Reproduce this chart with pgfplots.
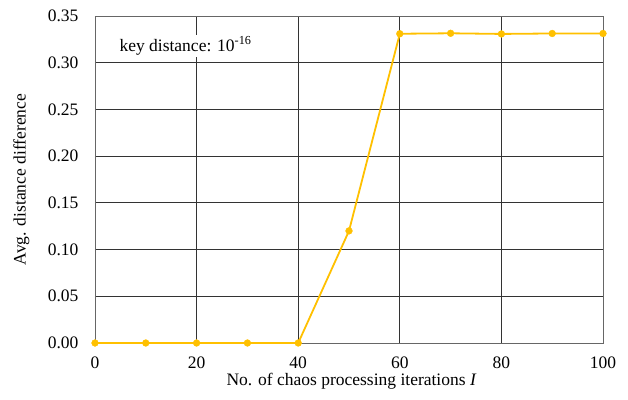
\documentclass[border=0pt]{standalone}
\usepackage{pgfplots}
\pgfplotsset{compat=1.18}
\usepackage{fontspec}
\setmainfont{Liberation Serif}
\definecolor{lineor}{HTML}{FFC000}
\begin{document}
\begin{tikzpicture}
\begin{axis}[
  scale only axis,
  width=508pt, height=327pt,
  xmin=0, xmax=100, ymin=0, ymax=0.35,
  xtick={0,20,40,60,80,100},
  ytick={0,0.05,0.10,0.15,0.20,0.25,0.30,0.35},
  yticklabel style={/pgf/number format/fixed, /pgf/number format/fixed zerofill, /pgf/number format/precision=2},
  /pgf/number format/assume math mode=true,
  major tick length=0pt,
  grid=major,
  major grid style={black!80, line width=0.8pt},
  axis line style={black!60, line width=0.8pt},
  tick label style={font=\fontsize{17.5}{20}\selectfont},
  label style={font=\fontsize{17.5}{20}\selectfont},
  xlabel={No. of chaos processing iterations \textit{I}},
  ylabel={Avg. distance difference},
  xticklabel style={anchor=north, yshift=-10pt},
  yticklabel style={anchor=east, xshift=-13pt},
  xlabel style={at={(axis description cs:0.505,-0.118)}, anchor=center},
  ylabel style={at={(axis description cs:-0.145,0.5)}, anchor=center},
  clip=false,
]
\addplot[color=lineor, line width=1.8pt, mark=*, mark size=3.4pt, mark options={solid, fill=lineor, draw=lineor, line width=0.4pt}]
coordinates {(0,0) (10,0) (20,0) (30,0) (40,0) (50,0.12) (60,0.331) (70,0.3315) (80,0.3308) (90,0.3313) (100,0.3313)};
\node[fill=white, anchor=west, inner sep=2pt, font=\fontsize{17.5}{20}\selectfont] at (axis cs:4.4,0.318) {key distance: 10\textsuperscript{-16}};
\end{axis}
\path ([shift={(-95pt,-56pt)}]current axis.south west) rectangle ([shift={(25pt,16pt)}]current axis.north east);
\end{tikzpicture}
\end{document}
